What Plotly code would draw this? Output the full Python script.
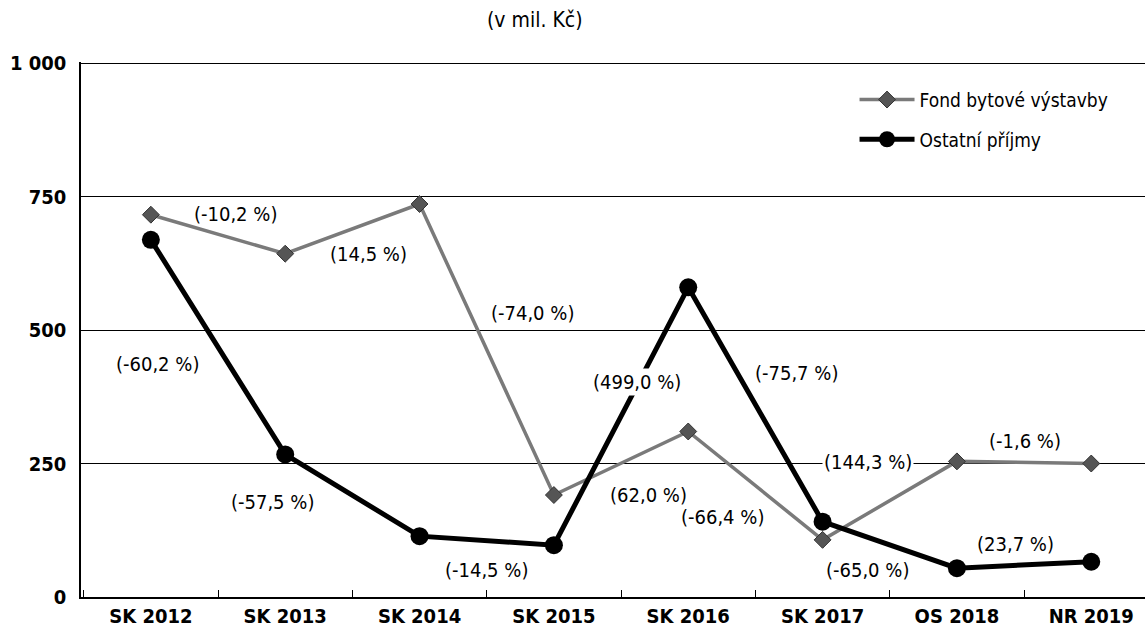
import plotly.graph_objects as go

# ---- data ----
categories = ["SK 2012", "SK 2013", "SK 2014", "SK 2015", "SK 2016", "SK 2017", "OS 2018", "NR 2019"]
fond = [716, 643, 736, 191, 310, 107, 254, 250]
ostatni = [669, 267, 114, 97, 580, 141, 54, 66]
fond_pct = ["(-10,2 %)", "(14,5 %)", "(-74,0 %)", "(62,0 %)", "(-66,4 %)", "(144,3 %)", "(-1,6 %)"]
ost_pct = ["(-60,2 %)", "(-57,5 %)", "(-14,5 %)", "(499,0 %)", "(-75,7 %)", "(-65,0 %)", "(23,7 %)"]
y_ticks = [0, 250, 500, 750, 1000]
y_ticktext = ["0", "250", "500", "750", "1 000"]

# ---- label offsets (pixels, relative to segment midpoints) ----
fond_off = [(17, 20), (16, -25), (46, 37), (27, -32), (-33, -31), (-22, 39), (1, 21)]
ost_off = [(-61, -17), (-80, -7), (0, -29), (16, 34), (41, 32), (-22, -25), (-9, 21)]
fond_bg = [None, None, None, None, None, "white", None]
ost_bg = [None, None, None, "white", None, None, None]

FONT = "Tahoma, 'DejaVu Sans Condensed', 'DejaVu Sans', sans-serif"

fig = go.Figure()
fig.add_trace(go.Scatter(
    x=categories, y=fond, name="Fond bytové výstavby", mode="lines+markers",
    line=dict(color="#7a7a7a", width=3.5),
    marker=dict(symbol="diamond", size=13, color="#555555", line=dict(color="#333333", width=1)),
    legendgroup="a",
))
fig.add_trace(go.Scatter(
    x=categories, y=ostatni, name="Ostatní příjmy", mode="lines+markers",
    line=dict(color="#000000", width=5),
    marker=dict(symbol="circle", size=18, color="#000000"),
    legendgroup="b",
))

annotations = []
for series, texts, offs, bgs in ((fond, fond_pct, fond_off, fond_bg), (ostatni, ost_pct, ost_off, ost_bg)):
    for i, t in enumerate(texts):
        xm = i + 0.5
        ym = (series[i] + series[i + 1]) / 2
        a = dict(x=xm, y=ym, xref="x", yref="y", text=t, showarrow=False,
                 xshift=offs[i][0], yshift=offs[i][1],
                 font=dict(family=FONT, size=20, color="#000000"))
        if bgs[i]:
            a["bgcolor"] = bgs[i]
            a["borderpad"] = 1
        annotations.append(a)

annotations.append(dict(x=0.4267, y=1.079, xref="paper", yref="paper", yanchor="middle",
                        text="(v mil. Kč)", showarrow=False,
                        font=dict(family=FONT, size=21, color="#000000")))

fig.update_layout(
    width=1145, height=635,
    margin=dict(l=81, r=0, t=62, b=38),
    paper_bgcolor="white", plot_bgcolor="white",
    font=dict(family=FONT, color="#000000"),
    showlegend=True,
    legend=dict(x=0.727, y=0.965, xanchor="left", yanchor="top",
                font=dict(family=FONT, size=19, color="#000000"),
                bgcolor="rgba(0,0,0,0)", tracegroupgap=12, itemwidth=55,
                traceorder="grouped"),
    annotations=annotations,
)
fig.update_xaxes(
    type="category", range=[-0.52, 7.40],
    showgrid=False, showline=True, linecolor="#000000", linewidth=1.5,
    ticks="inside", tickson="boundaries", ticklen=7, tickcolor="#000000",
    tickfont=dict(family=FONT, size=20, color="#000000", weight="bold"),
    ticklabelstandoff=0, zeroline=False,
)
fig.update_yaxes(
    range=[0, 1002], tickvals=y_ticks, ticktext=y_ticktext,
    showgrid=True, gridcolor="#000000", gridwidth=1,
    showline=True, linecolor="#000000", linewidth=1.5, ticks="",
    tickfont=dict(family=FONT, size=20, color="#000000", weight="bold"),
    ticklabelstandoff=9, zeroline=False,
)

fig.write_html("out.html", config={"displayModeBar": False},
               post_script="document.body.style.margin='0';")
